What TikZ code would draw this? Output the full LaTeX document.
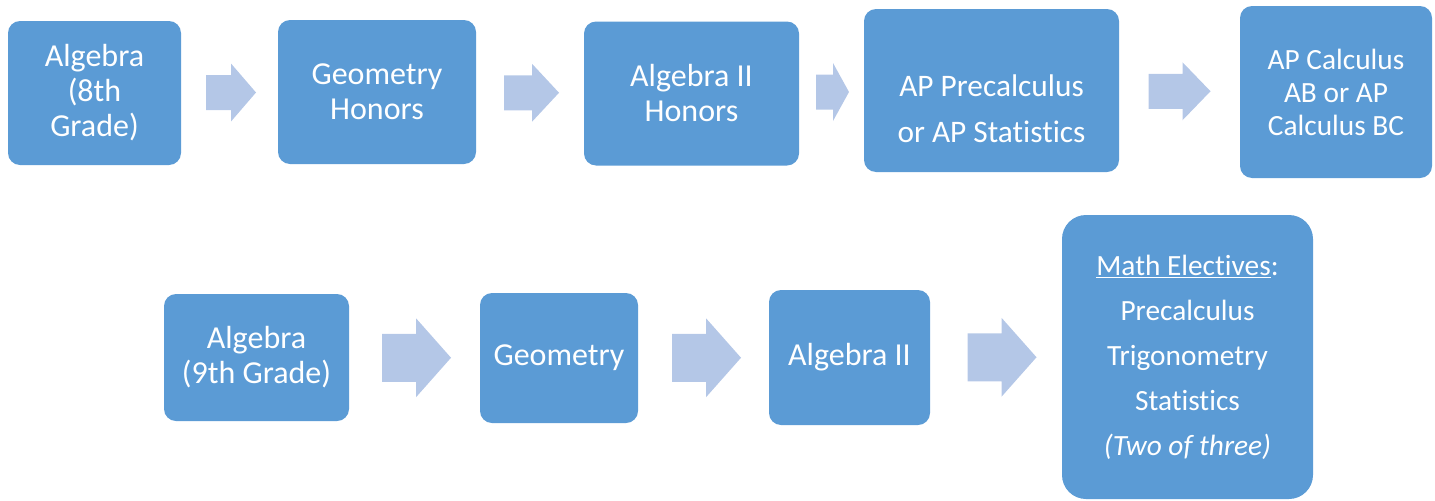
\documentclass[tikz,border=0pt]{standalone}
\usepackage{fontspec}
\setmainfont{Carlito}[Ligatures=NoCommon]
\usepackage{tikz}
\usetikzlibrary{calc}

\definecolor{boxblue}{HTML}{5B9BD5}
\definecolor{arrowblue}{HTML}{B4C7E7}

\begin{document}
\begin{tikzpicture}[x=0.75pt,y=-0.75pt,
    course/.style={rectangle,rounded corners=9pt,fill=boxblue,text=white,
      align=center,inner sep=0pt,font=\fontsize{24}{26.25}\selectfont},
    coursetext/.style={text=white,align=center,inner sep=0pt}]
      \useasboundingbox (0,0) rectangle (1435,500);
      % top row
      \node[course,minimum width=129.75pt,minimum height=108pt] (alg8) at (94.5,93) {Algebra\\(8th\\Grade)};
      \node[course,minimum width=148.5pt,minimum height=108pt] (geoh) at (377,92) {Geometry\\Honors};
      \node[course,minimum width=161.25pt,minimum height=108pt] (alg2h) at (691.5,93.5) {Algebra II\\Honors};
      \node[course,minimum width=191.25pt,minimum height=122.25pt] (appre) at (991.5,90.5) {};
      \node[coursetext,font=\fontsize{23.5}{34.5}\selectfont] (appretext) at (991.5,108.5) {AP Precalculus\\or AP Statistics};
      \node[course,minimum width=144pt,minimum height=129pt,font=\fontsize{22}{24.75}\selectfont] (apcalc) at (1336,92) {AP Calculus\\AB or AP\\Calculus BC};
      % bottom row
      \node[course,minimum width=138.75pt,minimum height=95.25pt] (alg9) at (256.5,357.5) {Algebra\\(9th Grade)};
      \node[course,minimum width=118.5pt,minimum height=97.5pt] (geo) at (559,358) {Geometry};
      \node[course,minimum width=120.75pt,minimum height=101.25pt] (alg2) at (849.5,357.5) {Algebra II};
      \node[course,minimum width=188.25pt,minimum height=213pt,rounded corners=18pt,font=\fontsize{22}{33.75}\selectfont] (elect) at (1187.5,357) {\underline{Math Electives}:\\Precalculus\\Trigonometry\\Statistics\\\textit{(Two of three)}};
      % block arrows
      \foreach \a/\b/\l/\h/\dx in {alg8/geoh/50/25/1.5,geoh/alg2h/55/27/1.5,alg2h/appre/33/16/1,appre/apcalc/62/28/0}
        \fill[arrowblue] ($(\a.east)!0.5!(\b.west)$) ++(\dx-\l/2,-17.5) -- ++(\l-\h,0) -- ++(0,-11.5)
          -- ++(\h,29) -- ++(-\h,29) -- ++(0,-11.5) -- ++(\h-\l,0) -- cycle;
      \foreach \a/\b/\dx in {alg9/geo/2,geo/alg2/3,alg2/elect/6}
        \fill[arrowblue] ($(\a.east)!0.5!(\b.west)$) ++(\dx-34.5,-24) -- ++(34,0) -- ++(0,-15.5)
          -- ++(35,39.5) -- ++(-35,39.5) -- ++(0,-15.5) -- ++(-34,0) -- cycle;
    \end{tikzpicture}
\end{document}
